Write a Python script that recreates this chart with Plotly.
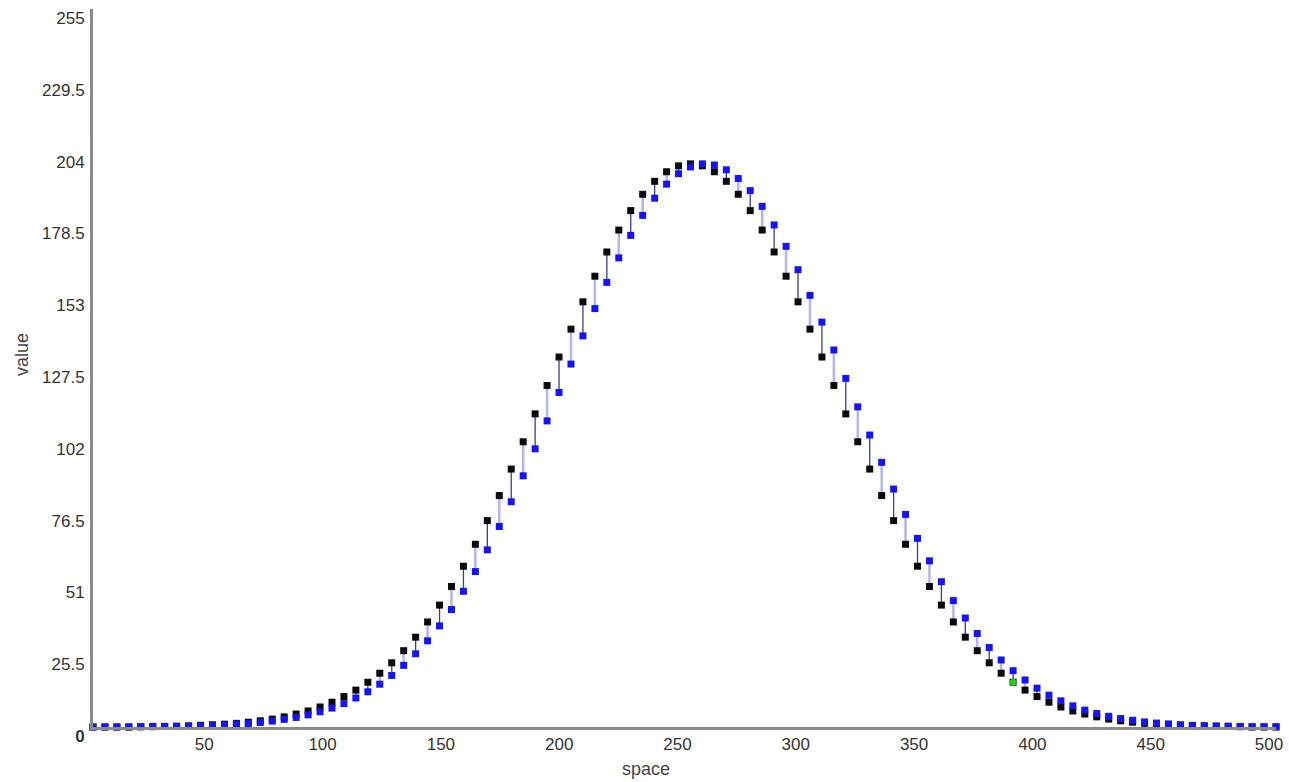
import plotly.graph_objects as go

# ---- data ----
space = [round(i * 500 / 99, 3) for i in range(100)]

black_values = [
    0.0, 0.0, 0.0, 0.0, 0.1, 0.2, 0.2, 0.3, 0.4, 0.6,
    0.8, 1.0, 1.3, 1.7, 2.2, 2.8, 3.6, 4.6, 5.7, 7.1,
    8.8, 10.8, 13.1, 15.9, 19.1, 22.8, 27.1, 31.9, 37.3, 43.3,
    49.9, 57.1, 64.9, 73.3, 82.2, 91.6, 101.3, 111.2, 121.3, 131.4,
    141.3, 151.0, 160.1, 168.7, 176.5, 183.4, 189.2, 193.8, 197.2, 199.3,
    200.0, 199.3, 197.2, 193.8, 189.2, 183.4, 176.5, 168.7, 160.1, 151.0,
    141.3, 131.4, 121.3, 111.2, 101.3, 91.6, 82.2, 73.3, 64.9, 57.1,
    49.9, 43.3, 37.3, 31.9, 27.1, 22.8, 19.1, 15.9, 13.1, 10.8,
    8.8, 7.1, 5.7, 4.6, 3.6, 2.8, 2.2, 1.7, 1.3, 1.0,
    0.8, 0.6, 0.4, 0.3, 0.2, 0.2, 0.1, 0.0, 0.0, 0.0,
]

blue_values = [
    0.0, 0.0, 0.0, 0.0, 0.1, 0.1, 0.2, 0.2, 0.3, 0.4,
    0.5, 0.7, 1.0, 1.2, 1.6, 2.1, 2.7, 3.4, 4.3, 5.4,
    6.7, 8.3, 10.3, 12.5, 15.2, 18.3, 21.9, 26.0, 30.6, 35.9,
    41.7, 48.2, 55.2, 62.9, 71.2, 80.0, 89.2, 98.8, 108.7, 118.8,
    128.9, 138.9, 148.6, 157.9, 166.6, 174.6, 181.7, 187.8, 192.8, 196.5,
    198.9, 200.0, 199.6, 197.9, 194.8, 190.5, 184.9, 178.3, 170.7, 162.4,
    153.3, 143.8, 133.9, 123.8, 113.7, 103.7, 94.0, 84.5, 75.5, 67.0,
    59.0, 51.6, 44.9, 38.7, 33.2, 28.2, 23.8, 20.0, 16.7, 13.8,
    11.3, 9.3, 7.5, 6.0, 4.8, 3.8, 3.0, 2.4, 1.8, 1.4,
    1.1, 0.8, 0.6, 0.5, 0.4, 0.3, 0.2, 0.1, 0.1, 0.1,
]

highlight_index = 77

y_tickvals = [0, 25.5, 51, 76.5, 102, 127.5, 153, 178.5, 204, 229.5, 255]
y_ticktext = ["<b>0</b>", "25.5", "51", "76.5", "102", "127.5", "153", "178.5", "204", "229.5", "255"]
x_tickvals = [0, 50, 100, 150, 200, 250, 300, 350, 400, 450, 500]
x_ticktext = ["", "50", "100", "150", "200", "250", "300", "350", "400", "450", "500"]

# ---- connector segments (alternating light / dark) ----
def segments(parity):
    xs, ys = [], []
    for i, (xv, b, c) in enumerate(zip(space, black_values, blue_values)):
        if i % 2 == parity:
            xs += [xv, xv, None]
            ys += [b, c, None]
    return xs, ys

fig = go.Figure()
lx, ly = segments(0)
fig.add_trace(go.Scatter(x=lx, y=ly, mode="lines", line=dict(color="#b4b4ee", width=2.5),
                         hoverinfo="skip", showlegend=False, cliponaxis=False))
dx, dy = segments(1)
fig.add_trace(go.Scatter(x=dx, y=dy, mode="lines", line=dict(color="#3c3c92", width=1.3),
                         hoverinfo="skip", showlegend=False, cliponaxis=False))

fig.add_trace(go.Scatter(x=space, y=black_values, mode="markers",
                         marker=dict(symbol="square", size=7, color="#0a0a0a"),
                         showlegend=False, cliponaxis=False))
fig.add_trace(go.Scatter(x=space, y=blue_values, mode="markers",
                         marker=dict(symbol="square", size=7, color="#1616ea"),
                         showlegend=False, cliponaxis=False))
fig.add_trace(go.Scatter(x=[space[highlight_index]], y=[black_values[highlight_index]], mode="markers",
                         marker=dict(symbol="circle", size=7, color="#22cc22"),
                         showlegend=False, cliponaxis=False))

axis_font = dict(family="Liberation Sans, Arial, sans-serif", size=17, color="#333333")

fig.update_xaxes(range=[0, 500], tickvals=x_tickvals, ticktext=x_ticktext,
                 showgrid=False, zeroline=False, showline=True, linecolor="#8a8a8a", linewidth=3,
                 ticks="", tickfont=axis_font, ticklabelshift=-7, ticklabelstandoff=0,
                 ticklabeloverflow="allow")
fig.update_yaxes(range=[0, 255], tickvals=y_tickvals, ticktext=y_ticktext,
                 showgrid=False, zeroline=False, showline=True, linecolor="#8a8a8a", linewidth=3,
                 ticks="", tickfont=axis_font, ticklabelshift=9, ticklabelstandoff=2,
                 ticklabeloverflow="allow")

fig.add_annotation(text="space", xref="paper", yref="paper", x=(649 - 93) / 1190, y=0,
                   xanchor="center", yanchor="middle", yshift=-42, showarrow=False,
                   font=dict(family="Liberation Sans, Arial, sans-serif", size=18, color="#444444"))
fig.add_annotation(text="value", xref="paper", yref="paper", x=0, y=(727 - 355) / 718,
                   xanchor="center", yanchor="middle", xshift=-71, textangle=-90, showarrow=False,
                   font=dict(family="Liberation Sans, Arial, sans-serif", size=18, color="#444444"))

fig.update_layout(width=1289, height=782, margin=dict(l=93, r=6, t=9, b=55),
                  paper_bgcolor="white", plot_bgcolor="white", hovermode="closest")

fig.write_html("out.html")
